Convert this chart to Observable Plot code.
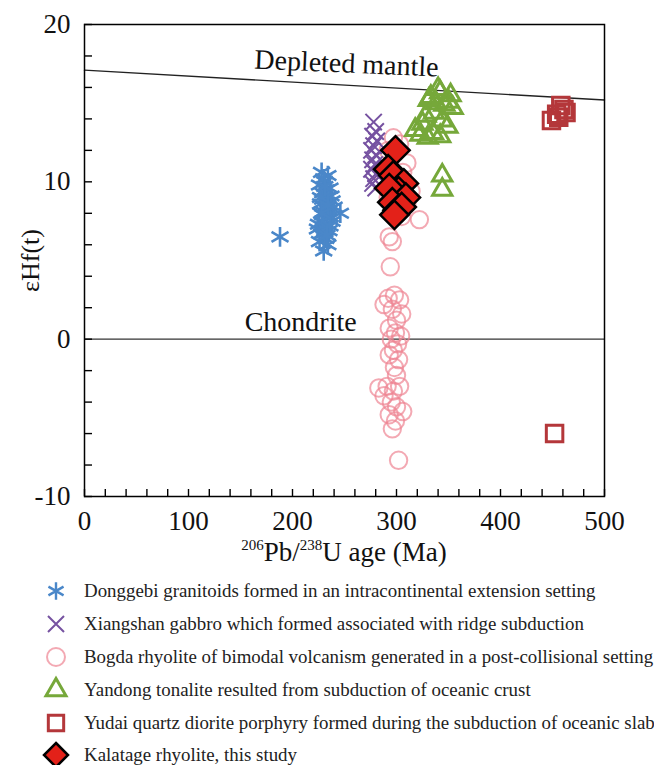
<!DOCTYPE html>
<html><head><meta charset="utf-8">
<script src="https://cdn.jsdelivr.net/npm/d3@7"></script>
<script src="https://cdn.jsdelivr.net/npm/@observablehq/plot@0.6"></script>
<style>
body{margin:0;background:#fff;font-family:"Liberation Serif","Times New Roman",serif;color:#111;}
#wrap{width:654px;}
#wrap svg, #wrap svg text{font-family:"Liberation Serif","Times New Roman",serif !important;}
#xtitle{width:654px;box-sizing:border-box;padding-left:34px;height:33px;line-height:33px;text-align:center;font-size:27px;color:#111;}
#xtitle sup{font-size:15px;vertical-align:0;position:relative;top:-11px;}
#legend{padding-top:6px;}
.row{display:flex;align-items:center;height:32.8px;}
.row svg{margin-left:41px;flex:none;}
.row span{margin-left:13px;font-size:18.9px;white-space:nowrap;color:#222;}
</style></head><body><div id="wrap"></div>
<script>
// ---- data ----
const seriesNames = [
  "Donggebi granitoids formed in an intracontinental extension setting",
  "Xiangshan gabbro which formed associated with ridge subduction",
  "Bogda rhyolite of bimodal volcanism generated in a post-collisional setting",
  "Yandong tonalite resulted from subduction of oceanic crust",
  "Yudai quartz diorite porphyry formed during the subduction of oceanic slab",
  "Kalatage rhyolite, this study"
];
const donggebiAge = [188,228,234,231,226,236,229,233,238,227,231,235,246,229,233,238,225,230,235,228,232,226,234,230,232,237,230,233,229,236,240,224,231,230,227,234,229,236,231,228,233];
const donggebiHf  = [6.5,10.6,10.4,10.0,9.8,9.6,9.3,9.0,8.8,8.6,8.4,8.2,8.0,7.9,7.7,7.5,7.3,7.1,6.9,6.7,6.4,6.2,6.0,5.6,9.5,9.1,8.1,7.3,8.9,7.8,8.4,7.0,6.8,10.2,9.0,8.5,7.5,7.2,9.7,8.0,6.6];
const xiangshanAge = [278,280,277,281,278,276,280,277,279,276,280,278,277,280];
const xiangshanHf  = [13.8,13.2,12.9,12.6,12.3,12.0,11.7,11.4,11.1,10.8,10.5,10.2,9.9,9.6];
const bogdaAge = [297,303,292,310,306,288,300,314,292,310,298,322,305,293,296,294,
  292,298,303,288,296,305,300,293,299,304,295,301,297,293,302,298,300,
  283,291,297,303,288,295,300,306,293,299,296,302];
const bogdaHf = [12.8,12.4,12.0,11.2,10.6,10.3,9.8,9.4,9.0,8.6,8.0,7.6,7.8,6.5,6.2,4.6,
  2.6,2.8,2.5,2.2,1.9,1.6,1.2,0.7,0.4,0.2,0.0,-0.3,-0.7,-1.0,-1.3,-1.8,-2.3,
  -3.1,-3.0,-3.3,-3.0,-3.6,-4.0,-4.3,-4.6,-4.8,-5.2,-5.7,-7.7];
const yandongAge = [352,342,333,354,336,325,344,318,335,342,330,349,338,346,340,331,328,323,350,344,344];
const yandongHf  = [15.5,15.7,15.4,14.7,14.4,13.7,13.9,13.3,13.1,12.9,12.8,13.5,15.0,14.9,15.9,15.2,14.2,13.0,15.1,10.4,9.5];
const yudaiAge = [449,456,458,463,461,454,452];
const yudaiHf  = [13.9,14.1,14.85,14.4,14.6,14.3,-6.0];
const kalatageAge = [299,292,297,307,302,293,309,296,301,305,298];
const kalatageHf  = [12.0,10.8,10.4,9.9,9.4,9.6,9.0,8.7,8.2,8.4,7.9];
const dmAge = [0,500];
const dmHf  = [17.1,15.2];
const annotText = ["Depleted mantle","Chondrite"];
const annotAge  = [163,154];
const annotHf   = [17.2,0.5];
const annotRot  = [2.5,0];
const xTickLabels = [0,100,200,300,400,500];
const xTickMinor = [0,20,40,60,80,100,120,140,160,180,200,220,240,260,280,300,320,340,360,380,400,420,440,460,480,500];
const yTickLabels = [20,10,0,-10];
const yTickMinor = [-10,-8,-6,-4,-2,0,2,4,6,8,10,12,14,16,18,20];

// ---- build ----
const FF = "Liberation Serif, Times New Roman, serif";
const pts = (a,h)=>a.map((x,i)=>({age:x,hf:h[i]}));
const dm = pts(dmAge,dmHf);
const annots = annotText.map((t,i)=>({t,age:annotAge[i],hf:annotHf[i],rot:annotRot[i]}));
const C = {blue:"#4a87c9",purple:"#7652a1",pink:"#ee8593",green:"#76a83a",brown:"#b4373a",red:"#e32119"};

const plot = Plot.plot({
  width:654, height:536,
  marginLeft:84, marginRight:50, marginTop:24, marginBottom:40,
  x:{domain:[0,500]}, y:{domain:[-10,20]},
  style:{"font-family":FF, background:"white", color:"#000", overflow:"visible"},
  marks:[
    Plot.ruleY([0],{stroke:"#333",strokeWidth:1.4}),
    Plot.line(dm,{x:"age",y:"hf",stroke:"#222",strokeWidth:1.4}),
    Plot.text(annots.slice(0,1),{x:"age",y:"hf",text:"t",rotate:annotRot[0],textAnchor:"start",lineAnchor:"bottom",fontSize:28,fontFamily:FF,fill:"#111"}),
    Plot.text(annots.slice(1),{x:"age",y:"hf",text:"t",textAnchor:"start",lineAnchor:"bottom",fontSize:28,fontFamily:FF,fill:"#111"}),
    Plot.dot(pts(donggebiAge,donggebiHf),{x:"age",y:"hf",symbol:"asterisk",r:9.3,stroke:C.blue,strokeWidth:2.6}),
    Plot.dot(pts(bogdaAge,bogdaHf),{x:"age",y:"hf",symbol:"circle",r:8.7,fill:"none",stroke:C.pink,strokeOpacity:0.7,strokeWidth:2}),
    Plot.dot(pts(xiangshanAge,xiangshanHf),{x:"age",y:"hf",symbol:"times",r:7.5,stroke:C.purple,strokeWidth:2}),
    Plot.dot(pts(yandongAge,yandongHf),{x:"age",y:"hf",symbol:"triangle2",r:9.2,fill:"none",stroke:C.green,strokeWidth:3}),
    Plot.dot(pts(yudaiAge,yudaiHf),{x:"age",y:"hf",symbol:"square2",r:10.5,fill:"none",stroke:C.brown,strokeWidth:3}),
    Plot.dot(pts(kalatageAge,kalatageHf),{x:"age",y:"hf",symbol:"diamond2",r:12.8,fill:C.red,stroke:"#000",strokeWidth:2.5}),
    Plot.axisX({ticks:xTickMinor,tickSize:-7,fill:"none",stroke:"#000",strokeWidth:1.4,label:null}),
    Plot.axisX({ticks:xTickLabels,tickSize:0,tickPadding:14,fontSize:27,fontFamily:FF,fill:"#111",label:null,tickFormat:d=>String(d)}),
    Plot.axisY({ticks:yTickMinor,tickSize:-8,fill:"none",stroke:"#000",strokeWidth:1.4,label:null}),
    Plot.axisY({ticks:yTickLabels,tickSize:0,tickPadding:14,fontSize:27,fontFamily:FF,fill:"#111",label:null,tickFormat:d=>String(d)}),
    Plot.frame({stroke:"#000",strokeWidth:1.5}),
    Plot.text(["εHf(t)"],{frameAnchor:"left",textAnchor:"middle",rotate:-90,dx:-54,fontSize:26,fontFamily:FF,fill:"#111"})
  ]
});
const wrap = document.getElementById("wrap");
wrap.appendChild(plot);

const xt = document.createElement("div");
xt.id = "xtitle";
xt.innerHTML = "<sup>206</sup>Pb/<sup>238</sup>U age (Ma)";
wrap.appendChild(xt);

// legend
const legendSyms = [
  {sym:d3.symbolAsterisk,size:215,stroke:C.blue,fill:"none",sw:2.4},
  {sym:d3.symbolTimes,size:169,stroke:C.purple,fill:"none",sw:2},
  {sym:d3.symbolCircle,size:254,stroke:C.pink,fill:"none",sw:2,op:0.7},
  {sym:d3.symbolTriangle2,size:286,stroke:C.green,fill:"none",sw:3},
  {sym:d3.symbolSquare2,size:300,stroke:C.brown,fill:"none",sw:3},
  {sym:d3.symbolDiamond2,size:367,stroke:"#000",fill:C.red,sw:2.5}
];
const lg = document.createElement("div");
lg.id = "legend";
seriesNames.forEach((name,i)=>{
  const s = legendSyms[i];
  const row = document.createElement("div");
  row.className = "row";
  const d = d3.symbol(s.sym,s.size)();
  row.innerHTML = `<svg width="30" height="30" viewBox="-15 -15 30 30"><path d="${d}" fill="${s.fill}" stroke="${s.stroke}" stroke-width="${s.sw}" stroke-opacity="${s.op||1}"/></svg><span>${name}</span>`;
  lg.appendChild(row);
});
wrap.appendChild(lg);
</script></body></html>
